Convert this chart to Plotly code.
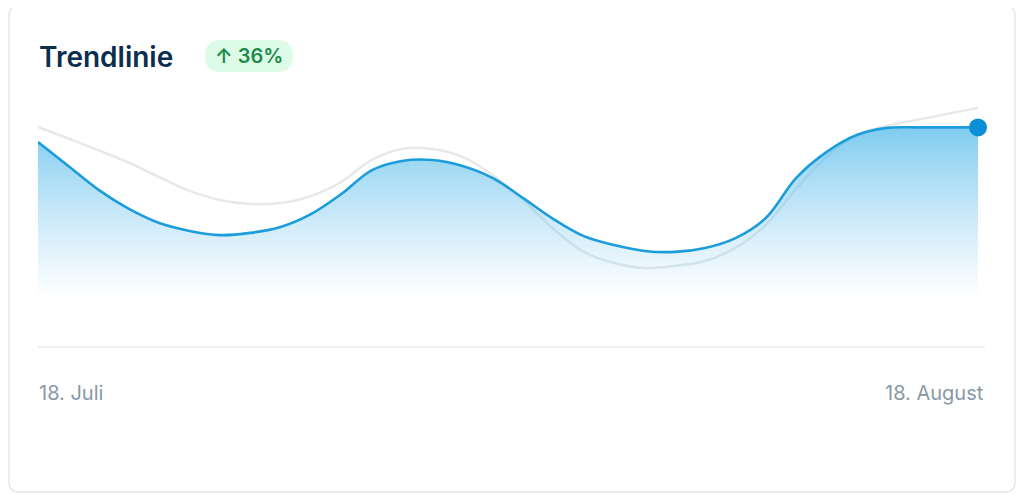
import pandas as pd
import plotly.graph_objects as go

# page body adds an 8px margin, so the figure is a bit smaller than the window
OFF = 8
W, H = 1024 - 2 * OFF, 504 - 2 * OFF

# Daily values, 18 July -> 18 August
dates = pd.date_range("2024-07-18", "2024-08-18", freq="D")
current = [83.0, 73.3, 63.6, 55.9, 50.2, 47.0, 45.3, 46.2, 48.6, 53.8, 61.9, 71.5,
           75.3, 75.7, 73.3, 68.4, 60.3, 51.8, 44.9, 41.3, 38.9, 38.5, 40.1, 44.1,
           52.2, 68.4, 78.9, 85.8, 88.7, 88.9, 88.9, 88.9]
previous = [89.1, 84.4, 79.6, 74.6, 68.8, 63.2, 59.5, 57.9, 58.3, 61.1, 66.8, 75.7,
            80.2, 80.2, 77.0, 69.6, 59.5, 47.8, 38.5, 34.0, 32.0, 32.8, 34.8, 40.1,
            49.4, 64.0, 76.9, 85.8, 89.5, 92.0, 94.4, 96.8]
tick_labels = ["18. Juli", "18. August"]
title_text = "Trendlinie"
change_text = "↑ 36%"

BLUE = "#1c9ddb"
GRAY = "#e6e8ea"


def px_x(v):
    return (v - OFF) / W


def px_y(v):
    return 1 - (v - OFF) / H


def rounded_rect(x0, y0, x1, y1, r):
    # path in paper units from window pixel coordinates (top-left origin)
    pts = [
        f"M {px_x(x0 + r)},{px_y(y0)}",
        f"L {px_x(x1 - r)},{px_y(y0)}",
        f"Q {px_x(x1)},{px_y(y0)} {px_x(x1)},{px_y(y0 + r)}",
        f"L {px_x(x1)},{px_y(y1 - r)}",
        f"Q {px_x(x1)},{px_y(y1)} {px_x(x1 - r)},{px_y(y1)}",
        f"L {px_x(x0 + r)},{px_y(y1)}",
        f"Q {px_x(x0)},{px_y(y1)} {px_x(x0)},{px_y(y1 - r)}",
        f"L {px_x(x0)},{px_y(y0 + r)}",
        f"Q {px_x(x0)},{px_y(y0)} {px_x(x0 + r)},{px_y(y0)}",
        "Z",
    ]
    return " ".join(pts)


fig = go.Figure()

# previous period, faint grey
fig.add_trace(go.Scatter(
    x=dates, y=previous, mode="lines",
    line=dict(color=GRAY, width=2.5, shape="spline", smoothing=1),
    hoverinfo="skip", showlegend=False,
))

# current period with vertical gradient fill
fig.add_trace(go.Scatter(
    x=dates, y=current, mode="lines",
    line=dict(color=BLUE, width=2.6, shape="spline", smoothing=1),
    fill="tozeroy",
    fillgradient=dict(
        type="vertical", start=20, stop=90,
        colorscale=[[0, "rgba(120,200,240,0)"], [0.45, "rgba(110,195,238,0.35)"],
                    [1, "rgba(80,185,235,0.75)"]],
    ),
    hoverinfo="skip", showlegend=False,
))

# end point marker
fig.add_trace(go.Scatter(
    x=[dates[-1]], y=[current[-1]], mode="markers",
    marker=dict(color="#0b8fd6", size=18),
    cliponaxis=False, hoverinfo="skip", showlegend=False,
))

shapes = [
    # card
    dict(type="path", xref="paper", yref="paper", path=rounded_rect(9, 6, 1015, 492, 10),
         line=dict(color="#e4e6e8", width=1.5), fillcolor="rgba(0,0,0,0)", layer="below"),
    # badge
    dict(type="path", xref="paper", yref="paper", path=rounded_rect(205, 40, 293, 72, 16),
         line=dict(width=0), fillcolor="#dcfce7", layer="below"),
    # baseline
    dict(type="line", xref="paper", yref="paper", x0=px_x(38), x1=px_x(985),
         y0=px_y(347), y1=px_y(347), line=dict(color="#e7e9eb", width=1.5)),
]

annotations = [
    dict(text=title_text, x=px_x(37), y=px_y(57), xref="paper", yref="paper",
         xanchor="left", yanchor="middle", showarrow=False,
         font=dict(family="Inter", size=28, weight=600, color="#0b2d4e")),
    dict(text=change_text, x=px_x(249), y=px_y(56), xref="paper", yref="paper",
         xanchor="center", yanchor="middle", showarrow=False,
         font=dict(family="Inter", size=20, weight=600, color="#1f8a4c")),
    dict(text=tick_labels[0], x=px_x(37), y=px_y(393), xref="paper", yref="paper",
         xanchor="left", yanchor="middle", showarrow=False,
         font=dict(family="Inter", size=20, color="#8898a8")),
    dict(text=tick_labels[1], x=px_x(986), y=px_y(393), xref="paper", yref="paper",
         xanchor="right", yanchor="middle", showarrow=False,
         font=dict(family="Inter", size=20, color="#8898a8")),
]

fig.update_layout(
    width=W, height=H,
    margin=dict(l=0, r=0, t=0, b=0),
    paper_bgcolor="white", plot_bgcolor="rgba(0,0,0,0)",
    xaxis=dict(domain=[px_x(38), px_x(978)], range=[dates[0], dates[-1]],
               visible=False, fixedrange=True),
    yaxis=dict(domain=[px_y(347), px_y(100)], range=[0, 100],
               visible=False, fixedrange=True),
    shapes=shapes,
    annotations=annotations,
)

fig.write_html("out.html", config={"displayModeBar": False})
